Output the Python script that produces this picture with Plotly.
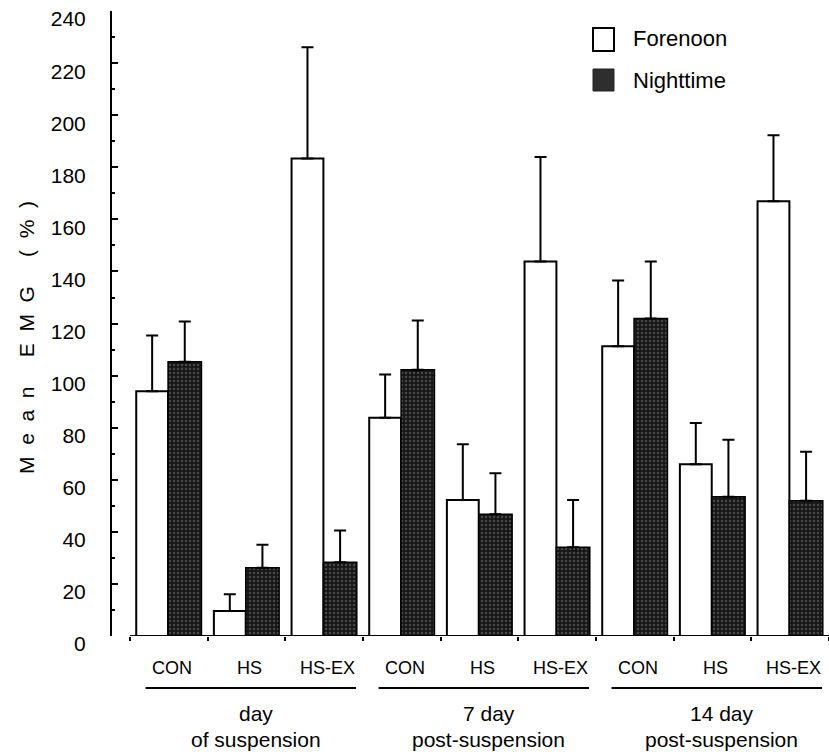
import plotly.graph_objects as go

# ---- data ----
categories = ["CON", "HS", "HS-EX", "CON", "HS", "HS-EX", "CON", "HS", "HS-EX"]
groups = [("day", "of suspension"), ("7 day", "post-suspension"), ("14 day", "post-suspension")]
forenoon = [94.0, 9.6, 183.4, 83.8, 52.2, 143.8, 111.3, 66.0, 167.0]
forenoon_err = [21.4, 6.4, 42.7, 16.6, 21.4, 40.2, 25.2, 15.8, 25.3]
nighttime = [105.3, 26.2, 28.3, 102.3, 46.8, 34.1, 121.9, 53.5, 51.9]
nighttime_err = [15.5, 8.8, 12.2, 18.9, 15.7, 18.1, 21.9, 21.9, 18.9]
y_ticks = [0, 20, 40, 60, 80, 100, 120, 140, 160, 180, 200, 220, 240]

FONT = "Liberation Sans, Arial, Helvetica, sans-serif"
W, H = 829, 752
ML, MR, MT, MB = 112, 0, 11, 116
PW, PH = W - ML - MR, H - MT - MB


def px_x(px):
    return (px - ML) / PW


def px_y(py):
    return (H - MB - py) / PH


xs = list(range(len(categories)))
fig = go.Figure()
fig.add_trace(go.Bar(
    x=xs, y=forenoon, name="Forenoon", offset=-0.42, width=0.41,
    marker=dict(color="white", line=dict(color="black", width=2)),
    error_y=dict(type="data", symmetric=False, array=forenoon_err,
                 arrayminus=[0] * len(forenoon), color="black", thickness=2, width=6),
    showlegend=False,
))
fig.add_trace(go.Bar(
    x=xs, y=nighttime, name="Nighttime", offset=-0.01, width=0.43,
    marker=dict(color="#161616", line=dict(color="black", width=1.5),
                pattern=dict(shape=".", fgcolor="#7a7a7a", bgcolor="#161616",
                             size=4, solidity=0.3)),
    error_y=dict(type="data", symmetric=False, array=nighttime_err,
                 arrayminus=[0] * len(nighttime), color="black", thickness=2, width=6),
    showlegend=False,
))

shapes = []
annotations = []

# x baseline
shapes.append(dict(type="line", xref="x", yref="y", x0=-0.5, x1=8.5, y0=0, y1=0,
                   line=dict(color="black", width=2)))

# category labels
for i, c in enumerate(categories):
    annotations.append(dict(x=i + 0.04, y=px_y(668), xref="x", yref="paper", text=c,
                            showarrow=False, font=dict(family=FONT, size=18, color="black"),
                            xanchor="center", yanchor="middle"))

# group lines and labels
for g, (l1, l2) in enumerate(groups):
    start = g * 3 - 0.5
    end = start + 3
    shapes.append(dict(type="line", xref="x", yref="paper", x0=start + 0.2, x1=end - 0.09,
                       y0=px_y(688), y1=px_y(688), line=dict(color="black", width=2)))
    cx = (start + end) / 2 + 0.12
    annotations.append(dict(x=cx, y=px_y(713), xref="x", yref="paper", text=l1,
                            showarrow=False, font=dict(family=FONT, size=21, color="black"),
                            xanchor="center", yanchor="middle"))
    annotations.append(dict(x=cx, y=px_y(740), xref="x", yref="paper", text=l2,
                            showarrow=False, font=dict(family=FONT, size=21, color="black"),
                            xanchor="center", yanchor="middle"))

# y-axis title (letter-spaced)
NB = "\u00a0"
title_txt = (NB * 2).join(["M", "e", "a", "n"]) + NB * 5 + (NB * 2).join(["E", "M", "G"]) \
    + NB * 5 + (NB * 2).join(["(", "%", ")"])
annotations.append(dict(x=px_x(26), y=px_y(338), xref="paper", yref="paper",
                        text=title_txt, textangle=-90, showarrow=False,
                        font=dict(family=FONT, size=21, color="black"),
                        xanchor="center", yanchor="middle"))

# legend
shapes.append(dict(type="rect", xref="paper", yref="paper", x0=px_x(593), x1=px_x(614),
                   y0=px_y(51), y1=px_y(28), line=dict(color="black", width=2),
                   fillcolor="white"))
shapes.append(dict(type="rect", xref="paper", yref="paper", x0=px_x(593), x1=px_x(614),
                   y0=px_y(91), y1=px_y(69), line=dict(color="#222", width=1),
                   fillcolor="#2e2e2e"))
annotations.append(dict(x=px_x(631), y=px_y(39), xref="paper", yref="paper", text="Forenoon",
                        showarrow=False, font=dict(family=FONT, size=22, color="black"),
                        xanchor="left", yanchor="middle"))
annotations.append(dict(x=px_x(631), y=px_y(80), xref="paper", yref="paper", text="Nighttime",
                        showarrow=False, font=dict(family=FONT, size=22, color="black"),
                        xanchor="left", yanchor="middle"))

fig.update_layout(
    width=W, height=H,
    margin=dict(l=ML, r=MR, t=MT, b=MB, pad=0),
    paper_bgcolor="white", plot_bgcolor="white",
    barmode="overlay",
    shapes=shapes, annotations=annotations,
    font=dict(family=FONT, color="black"),
)
fig.update_xaxes(
    range=[-0.5 - 18 / 77.6, 8.5],
    showline=False, showgrid=False, zeroline=False,
    tickmode="array", tickvals=[i - 0.5 for i in range(10)], ticktext=[""] * 10,
    ticks="outside", ticklen=4, tickwidth=2, tickcolor="black",
)
fig.update_yaxes(
    range=[0, 240.05],
    showline=True, linecolor="black", linewidth=2, mirror=False,
    showgrid=False, zeroline=False,
    tickmode="array", tickvals=y_ticks, ticktext=[str(v) for v in y_ticks],
    ticks="inside", ticklen=6, tickwidth=2, tickcolor="black",
    minor=dict(dtick=10, ticks="inside", ticklen=3, tickwidth=2, tickcolor="black"),
    tickfont=dict(family=FONT, size=21, color="black"),
    ticklabelshift=8, ticklabelstandoff=20,
)

fig.write_html("out.html")
